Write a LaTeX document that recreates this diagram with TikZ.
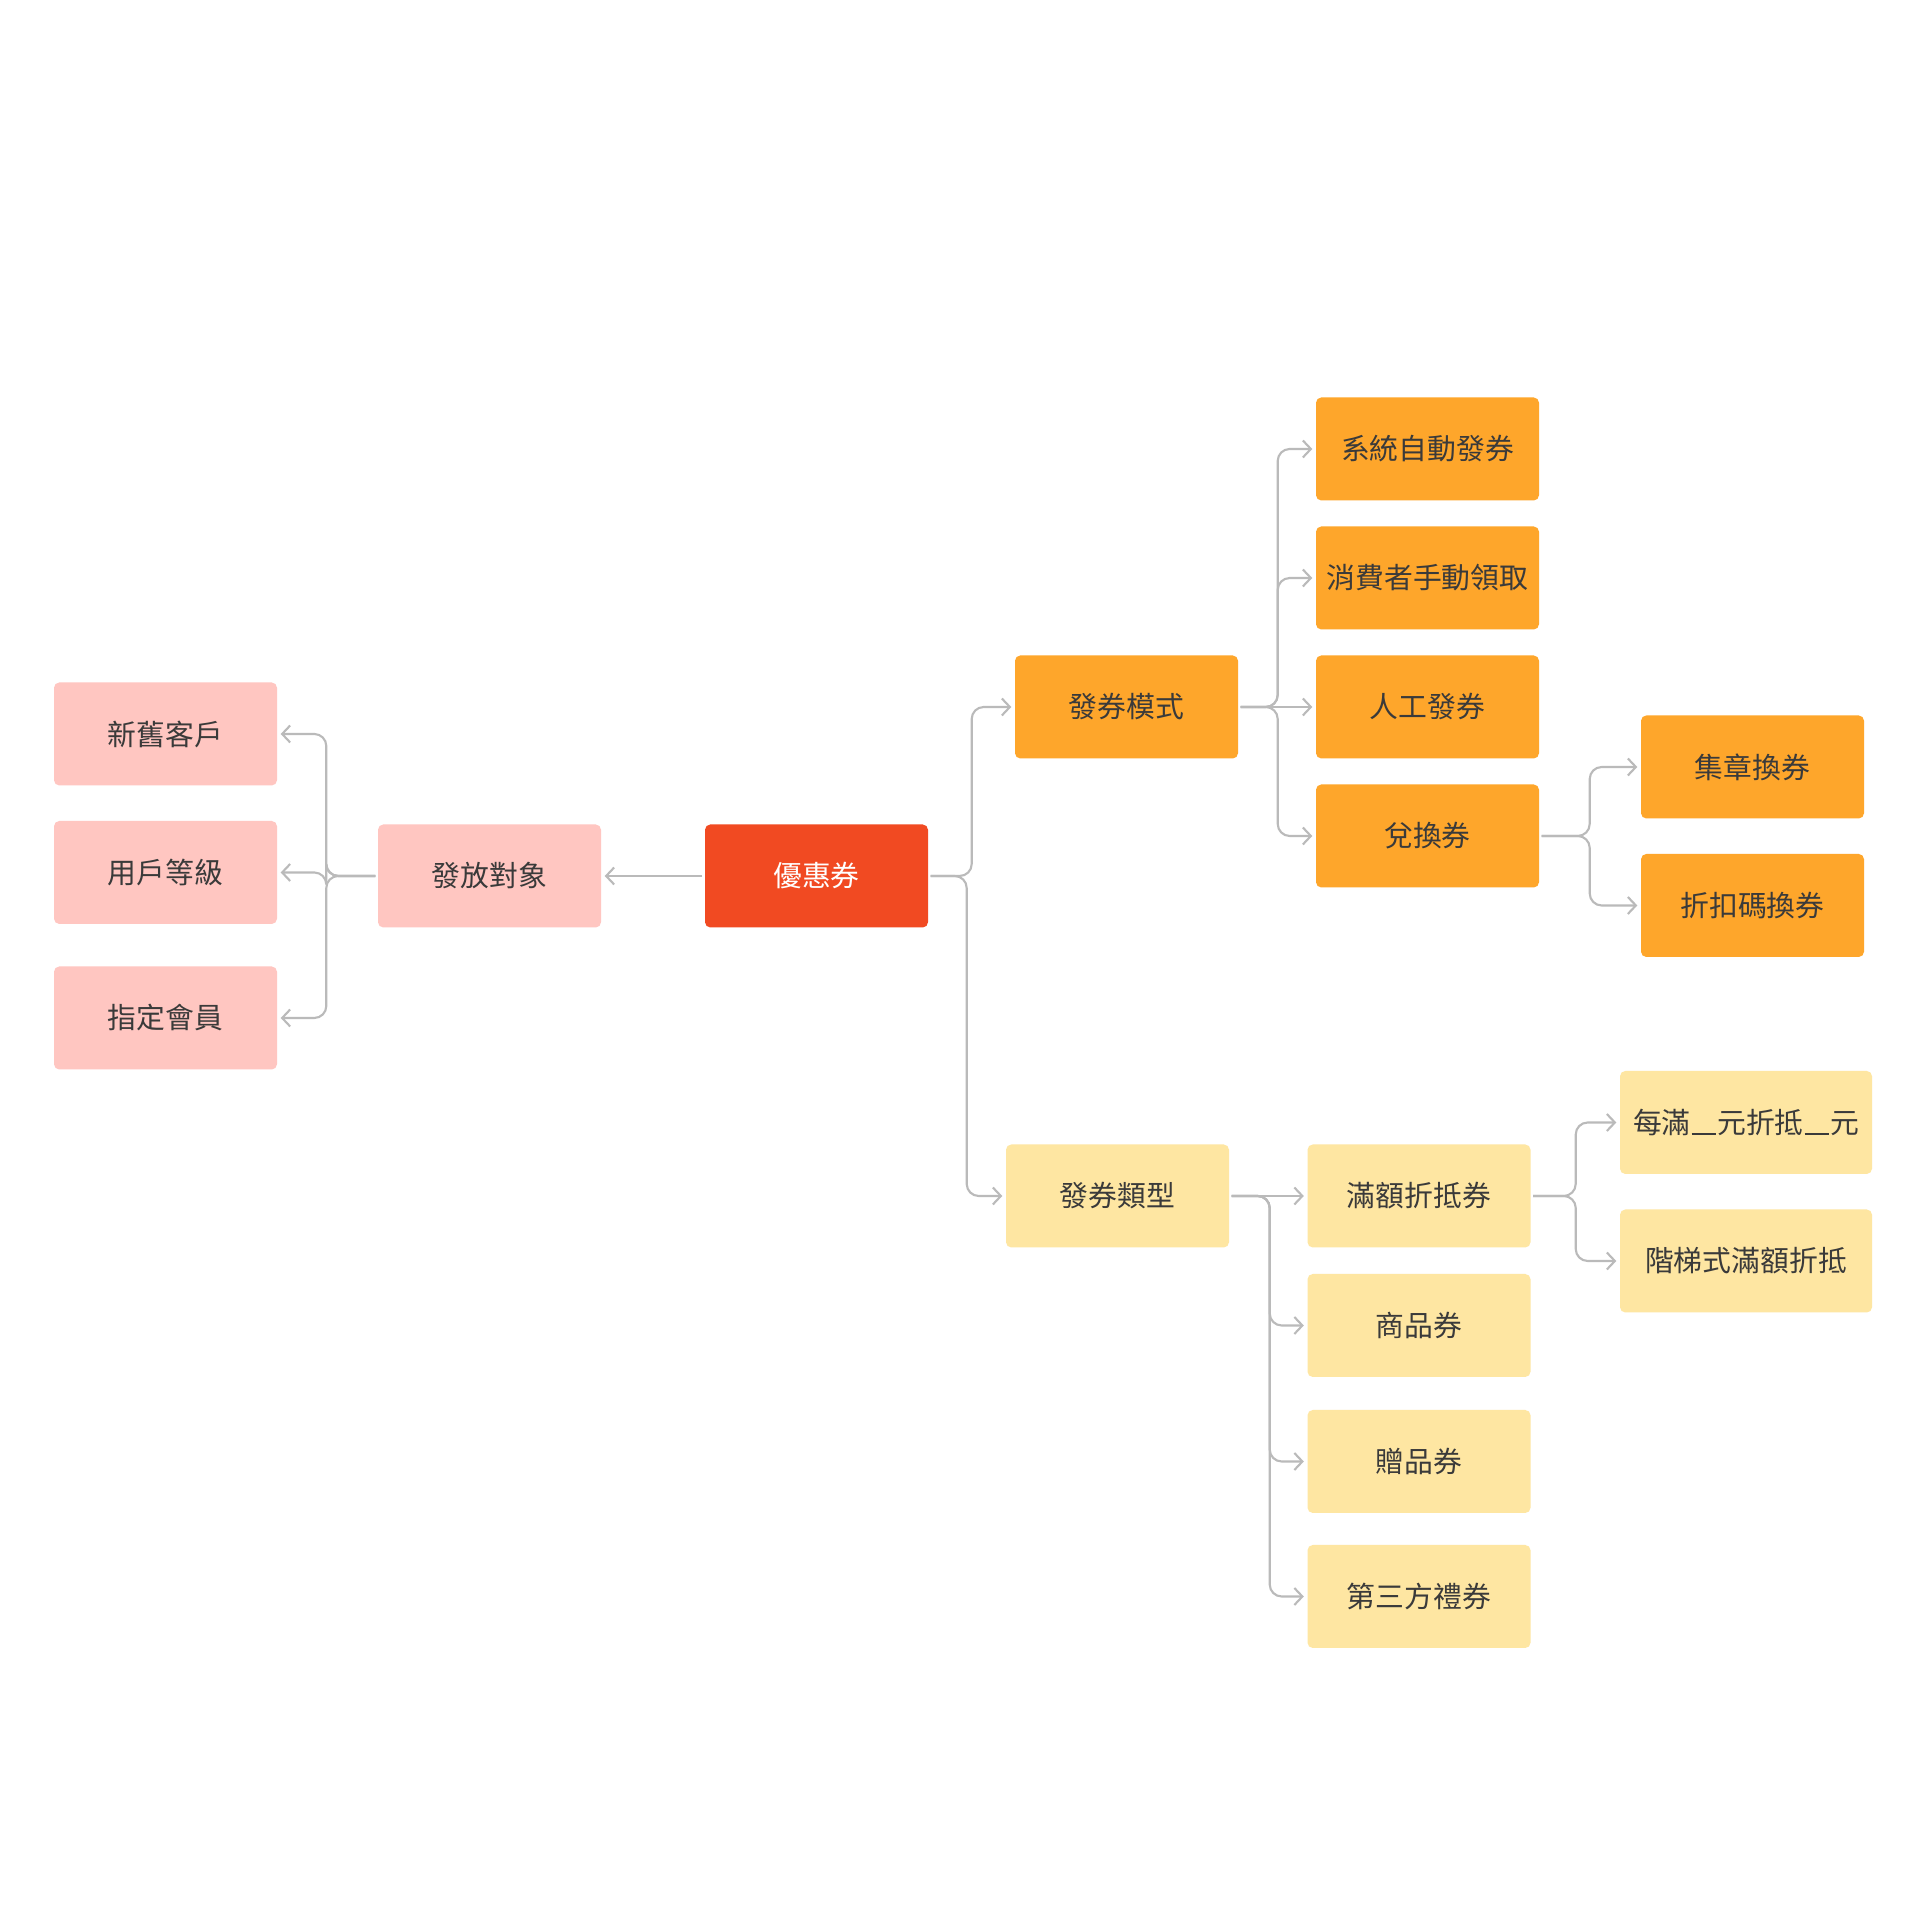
\documentclass[tikz,border=0pt]{standalone}
\usepackage{fontspec}
\setmainfont{Noto Sans CJK TC}
\usetikzlibrary{arrows.meta}

\definecolor{rootred}{HTML}{F14A22}
\definecolor{pinkfill}{HTML}{FFC6C1}
\definecolor{orangefill}{HTML}{FEA62B}
\definecolor{yellowfill}{HTML}{FEE6A2}
\definecolor{linegray}{HTML}{BABABA}
\definecolor{textgray}{HTML}{3A3A3A}

% blank to fill in
\newcommand{\blankline}{\kern0.03em\rule[-0.04em]{0.86em}{0.07em}\kern0.03em}

\begin{document}
\begin{tikzpicture}[
    box/.style={minimum width=2.23cm, minimum height=1.03cm, align=center, rounded corners=1.5pt, text=textgray, font=\fontsize{8.2}{10}\selectfont, inner sep=0pt},
    rootbox/.style={box, fill=rootred, text=white},
    target/.style={box, fill=pinkfill},
    mode/.style={box, fill=orangefill},
    kind/.style={box, fill=yellowfill},
    link/.style={-{Straight Barb[length=0.08cm, width=0.17cm]}, line width=0.6pt, draw=linegray, rounded corners=0.12cm, shorten <=0.02cm, shorten >=0.03cm},
]
    \fill[white] (0, 0) rectangle (19.2, 19.2);
    \useasboundingbox (0, 0) rectangle (19.2, 19.2);

    % --- Root ---
    \node[rootbox] (coupon) at (8.165, 10.44) {優惠券};

    % ==========================================
    % LEFT: 發放對象
    % ==========================================
    \begin{scope}[local bounding box=left_block]
        \node[target] (who) at (4.895, 10.44) {發放對象};
        \node[target] (newold) at (1.655, 11.86) {新舊客戶};
        \node[target] (level) at (1.655, 10.475) {用戶等級};
        \node[target] (member) at (1.655, 9.02) {指定會員};

        \draw[link] (coupon.west) -- (who.east);
        \draw[link] (who.west) -- ++(-0.51, 0) |- (newold.east);
        \draw[link] (who.west) -- ++(-0.51, 0) |- (level.east);
        \draw[link] (who.west) -- ++(-0.51, 0) |- (member.east);
    \end{scope}

    % ==========================================
    % UPPER RIGHT: 發券模式
    % ==========================================
    \begin{scope}[local bounding box=mode_block]
        \node[mode] (issue) at (11.265, 12.13) {發券模式};
        \node[mode] (auto) at (14.275, 14.71) {系統自動發券};
        \node[mode] (claim) at (14.275, 13.42) {消費者手動領取};
        \node[mode] (manual) at (14.275, 12.13) {人工發券};
        \node[mode] (redeem) at (14.275, 10.84) {兌換券};
        \node[mode] (stamp) at (17.525, 11.53) {集章換券};
        \node[mode] (code) at (17.525, 10.145) {折扣碼換券};

        \draw[link] (coupon.east) -- ++(0.43, 0) |- (issue.west);
        \draw[link] (issue.east) -- ++(0.39, 0) |- (auto.west);
        \draw[link] (issue.east) -- ++(0.39, 0) |- (claim.west);
        \draw[link] (issue.east) -- (manual.west);
        \draw[link] (issue.east) -- ++(0.39, 0) |- (redeem.west);

        % Split 兌換券
        \draw[link] (redeem.east) -- ++(0.50, 0) |- (stamp.west);
        \draw[link] (redeem.east) -- ++(0.50, 0) |- (code.west);
    \end{scope}

    % ==========================================
    % LOWER RIGHT: 發券類型
    % ==========================================
    \begin{scope}[local bounding box=kind_block]
        \node[kind] (type) at (11.175, 7.24) {發券類型};
        \node[kind] (full) at (14.19, 7.24) {滿額折抵券};
        \node[kind] (goods) at (14.19, 5.945) {商品券};
        \node[kind] (gift) at (14.19, 4.585) {贈品券};
        \node[kind] (third) at (14.19, 3.235) {第三方禮券};
        \node[kind, minimum width=2.52cm] (every) at (17.46, 7.975) {每滿\blankline 元折抵\blankline 元};
        \node[kind, minimum width=2.52cm] (tier) at (17.46, 6.59) {階梯式滿額折抵};

        \draw[link] (coupon.east) -- ++(0.38, 0) |- (type.west);
        \draw[link] (type.east) -- (full.west);
        \draw[link] (type.east) -- ++(0.40, 0) |- (goods.west);
        \draw[link] (type.east) -- ++(0.40, 0) |- (gift.west);
        \draw[link] (type.east) -- ++(0.40, 0) |- (third.west);

        % Split 滿額折抵券
        \draw[link] (full.east) -- ++(0.445, 0) |- (every.west);
        \draw[link] (full.east) -- ++(0.445, 0) |- (tier.west);
    \end{scope}

\end{tikzpicture}
\end{document}
